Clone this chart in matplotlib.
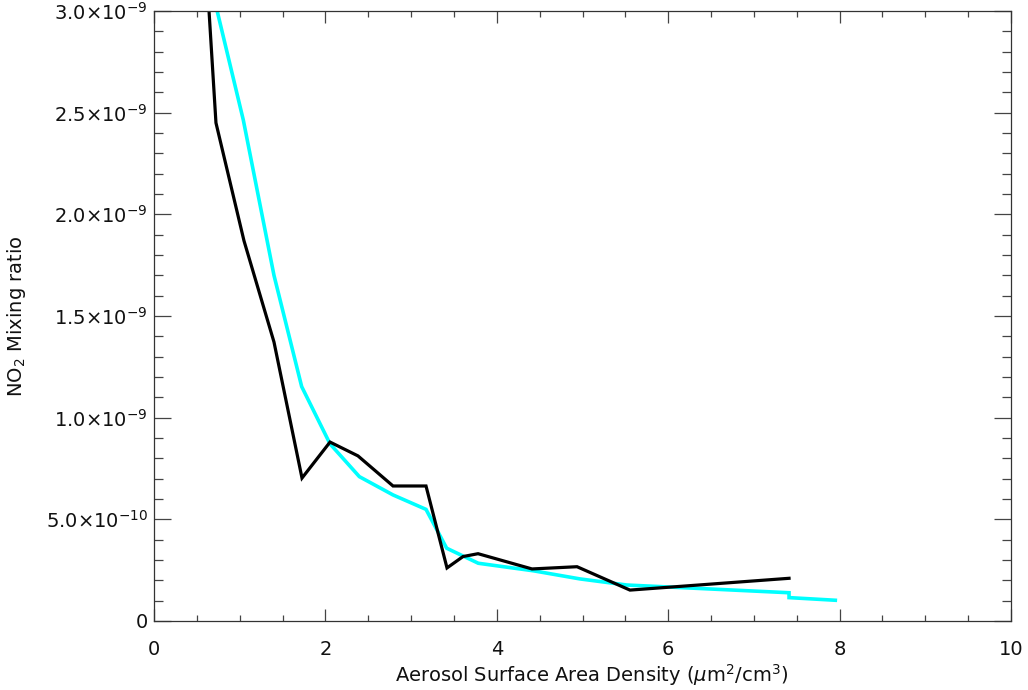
import matplotlib
matplotlib.use("Agg")
import matplotlib.pyplot as plt
from matplotlib.ticker import FixedLocator, MultipleLocator

# aerosol surface area density (um^2/cm^3) and NO2 mixing ratio
x_black = [0.62, 0.723, 1.050, 1.400, 1.727, 2.054, 2.380, 2.789, 3.174,
           3.419, 3.606, 3.781, 4.411, 4.936, 5.554, 7.41]
y_black = [3.15e-9, 2.45e-9, 1.87e-9, 1.372e-9, 0.703e-9, 0.880e-9, 0.812e-9,
           0.664e-9, 0.664e-9, 0.261e-9, 0.317e-9, 0.331e-9, 0.256e-9,
           0.267e-9, 0.152e-9, 0.210e-9]

x_cyan = [0.72, 1.042, 1.400, 1.723, 2.054, 2.396, 2.789, 3.174, 3.415,
          3.784, 4.426, 4.97, 5.516, 7.41, 7.41, 7.95]
y_cyan = [3.03e-9, 2.464e-9, 1.70e-9, 1.153e-9, 0.871e-9, 0.710e-9, 0.620e-9,
          0.549e-9, 0.358e-9, 0.284e-9, 0.247e-9, 0.207e-9, 0.177e-9,
          0.139e-9, 0.115e-9, 0.102e-9]

y_ticks = [0, 0.5e-9, 1.0e-9, 1.5e-9, 2.0e-9, 2.5e-9, 3.0e-9]
y_ticklabels = ["0", r"5.0$\times$10$^{-10}$", r"1.0$\times$10$^{-9}$",
                r"1.5$\times$10$^{-9}$", r"2.0$\times$10$^{-9}$",
                r"2.5$\times$10$^{-9}$", r"3.0$\times$10$^{-9}$"]

plt.rcParams["font.family"] = "DejaVu Sans"
plt.rcParams["mathtext.fontset"] = "dejavusans"

fig = plt.figure(figsize=(10.28, 6.90), dpi=100)
ax = fig.add_axes([154 / 1028, 69 / 690, 857 / 1028, 610 / 690])

ax.plot(x_cyan, y_cyan, color="#00ffff", lw=2.6, solid_joinstyle="miter")
ax.plot(x_black, y_black, color="black", lw=2.3, solid_joinstyle="miter")

ax.set_xlim(0, 10)
ax.set_ylim(0, 3.0e-9)

ax.xaxis.set_major_locator(MultipleLocator(2))
ax.xaxis.set_minor_locator(MultipleLocator(0.5))
ax.yaxis.set_major_locator(FixedLocator(y_ticks))
ax.yaxis.set_minor_locator(MultipleLocator(1e-10))
ax.set_yticklabels(y_ticklabels)

ax.tick_params(axis="both", which="both", direction="in", top=True,
               right=True, color="#444444", width=0.9, labelsize=14,
               labelcolor="#111111")
ax.tick_params(axis="x", which="major", length=8.6, pad=14)
ax.tick_params(axis="x", which="minor", length=4.3)
ax.tick_params(axis="y", which="major", length=12.3, pad=4.5)
ax.tick_params(axis="y", which="minor", length=6.2)
for sp in ax.spines.values():
    sp.set_linewidth(0.9)
    sp.set_color("#333333")

ax.set_xlabel(r"Aerosol Surface Area Density ($\mu$m$^2$/cm$^3$)",
              fontsize=14, color="#111111")
ax.xaxis.set_label_coords(0.511, -0.067)
ax.set_ylabel(r"NO$_2$ Mixing ratio", fontsize=14, color="#111111")
ax.yaxis.set_label_coords(-0.147, 0.5)

fig.savefig("out.png", dpi=100)
plt.close(fig)
